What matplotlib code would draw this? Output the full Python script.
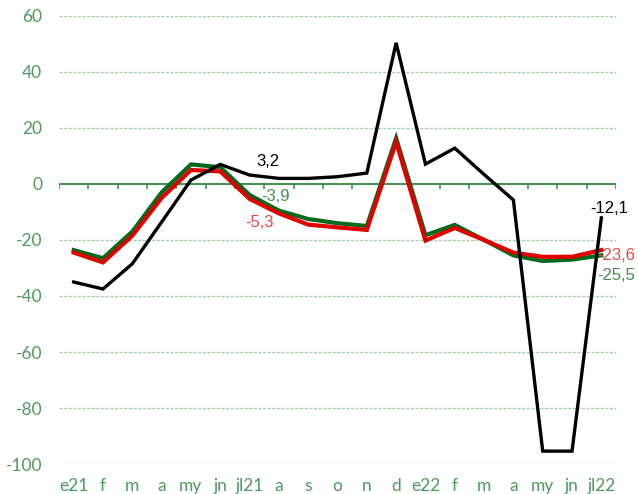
import matplotlib
matplotlib.use("Agg")
import matplotlib.pyplot as plt
import matplotlib.transforms as mtransforms

plt.rcParams["axes.unicode_minus"] = False

months = ["e21", "f", "m", "a", "my", "jn", "jl21", "a", "s", "o", "n", "d",
          "e22", "f", "m", "a", "my", "jn", "jl22"]

black_vals = [-35.0, -37.5, -28.5, -13.6, 1.4, 7.0, 3.2, 2.0, 2.0, 2.6, 3.9, 50.4,
              7.1, 12.8, 3.4, -5.7, -95.4, -95.4, -12.1]
green_vals = [-23.6, -26.5, -17.0, -3.0, 7.0, 6.0, -3.9, -9.5, -12.5, -14.0, -15.0, 16.4,
              -18.3, -14.6, -20.0, -25.5, -27.5, -27.0, -25.5]
red_vals = [-24.5, -28.0, -18.5, -5.0, 5.0, 4.5, -5.3, -10.5, -14.5, -15.5, -16.4, 15.0,
            -20.2, -15.7, -20.0, -24.5, -26.0, -26.0, -23.6]

yticks = [60, 40, 20, 0, -20, -40, -60, -80, -100]

TICK_GREEN = "#4f9a5f"
AXIS_GREEN = "#2e8b3e"
GRID_GREEN = "#a6d0ac"
LINE_GREEN = "#056b1c"
LINE_RED = "#e00000"
LABEL_RED = "#e84848"
LABEL_GREEN = "#3f9050"

fig = plt.figure(figsize=(6.38, 4.94), dpi=100)
ax = fig.add_axes([59 / 638, 1 - 464 / 494, (616 - 59) / 638, 448 / 494])

x = list(range(len(months)))
ax.set_xlim(-0.5, len(months) - 0.5)
ax.set_ylim(-100, 60)

# grid lines
for v in yticks:
    if v != 0:
        ax.axhline(v, color=GRID_GREEN, lw=0.9, ls=(0, (2.5, 1.2)), zorder=1)

# zero axis with category boundary ticks
ax.axhline(0, color=AXIS_GREEN, lw=1.3, zorder=2)
for b in range(len(months) + 1):
    ax.plot([b - 0.5, b - 0.5], [0, -1.8], color=AXIS_GREEN, lw=1.1, zorder=2,
            solid_capstyle="butt")

ax.plot(x, green_vals, color=LINE_GREEN, lw=3.0, zorder=3, solid_joinstyle="miter")
ax.plot(x, red_vals, color=LINE_RED, lw=3.0, zorder=4, solid_joinstyle="miter")
ax.plot(x, black_vals, color="black", lw=2.4, zorder=5, solid_joinstyle="miter")

for s in ax.spines.values():
    s.set_visible(False)
ax.set_xticks([])
ax.set_yticks(yticks)
ax.tick_params(axis="y", length=0, pad=12, labelsize=12.5, labelcolor=TICK_GREEN)
for lab in ax.get_yticklabels():
    lab.set_fontfamily("Lato")

trans = mtransforms.blended_transform_factory(ax.transData, ax.transAxes)
for i, m in enumerate(months):
    ax.text(i, -0.05, m, transform=trans, ha="center", va="center",
            fontsize=12.5, color=TICK_GREEN, family="Lato")

lab_font = "Liberation Sans"
fs = 12
ax.text(6.63, 7.9, "3,2", ha="center", va="center", fontsize=fs, color="black",
        family=lab_font, zorder=6)
ax.text(6.9, -4.3, "-3,9", ha="center", va="center", fontsize=fs, color=LABEL_GREEN,
        family=lab_font, zorder=6)
ax.text(6.33, -13.6, "-5,3", ha="center", va="center", fontsize=fs, color=LABEL_RED,
        family=lab_font, zorder=6)
ax.text(18.27, -8.9, "-12,1", ha="center", va="center", fontsize=fs, color="black",
        family=lab_font, zorder=6)
ax.text(17.86, -25.7, "-23,6", ha="left", va="center", fontsize=fs, color=LABEL_RED,
        family=lab_font, zorder=4.5, clip_on=False)
ax.text(17.86, -32.5, "-25,5", ha="left", va="center", fontsize=fs, color=LABEL_GREEN,
        family=lab_font, zorder=4.5, clip_on=False)

fig.savefig("out.png", dpi=100)
